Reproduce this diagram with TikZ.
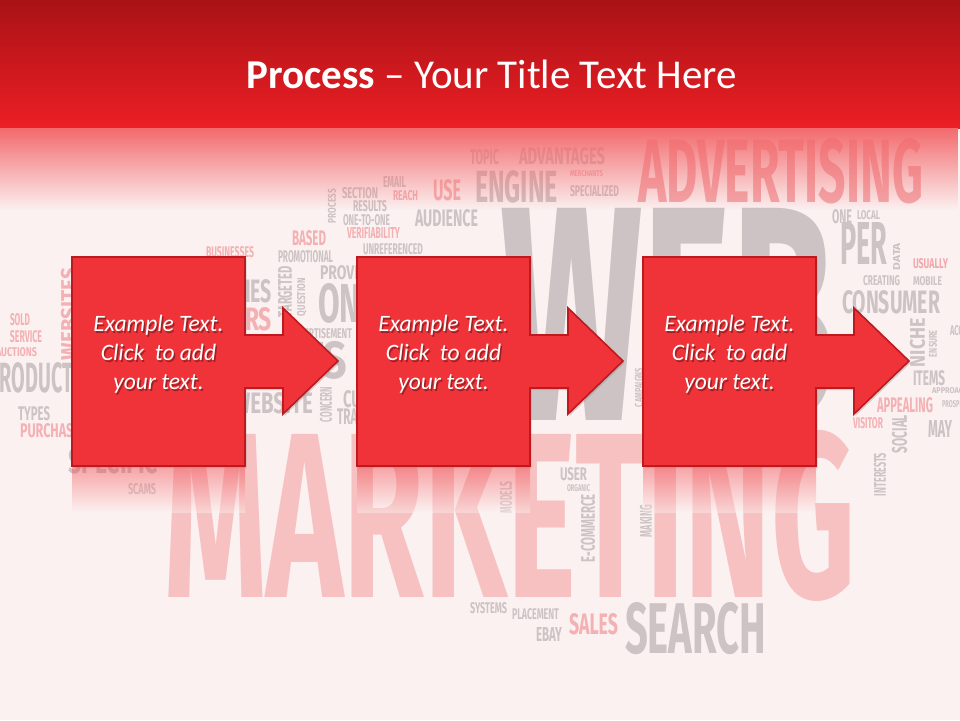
\documentclass[tikz,border=0pt]{standalone}
\usepackage{fontspec}
\setmainfont{Carlito}
\newfontfamily\cloudfont{Fira Sans}
\usepackage{graphicx}
\usetikzlibrary{fadings, shadows}
\definecolor{pageBg}{HTML}{FCF1F1}
\definecolor{bannerTop}{HTML}{A91216}
\definecolor{bannerBottom}{HTML}{EC1F25}
\definecolor{bannerFade}{HTML}{F36A6D}
\definecolor{cloudGrey}{HTML}{CDC3C4}
\definecolor{cloudPink}{HTML}{F3B1B3}
\definecolor{cloudRose}{HTML}{F2A7AA}
\definecolor{marketPink}{HTML}{F7C1C2}
\definecolor{stepRed}{HTML}{F03338}
\definecolor{stepEdge}{HTML}{BC1A1F}
\tikzfading[name=fadeDown, top color=transparent!0, bottom color=transparent!100]
\tikzfading[name=bandFade, top color=transparent!100, middle color=transparent!15, bottom color=transparent!100]

\begin{document}
\begin{tikzpicture}[
    x=1pt, y=-1pt,
    word/.style={font=\cloudfont\bfseries, inner sep=0pt, outer sep=0pt},
    stepshape/.style={fill=stepRed, draw=stepEdge, line width=1.6pt, line join=miter,
        drop shadow={opacity=0.3, shadow xshift=1.5pt, shadow yshift=-2pt}},
    steptext/.style={text=white, font=\fontsize{23.5}{29}\selectfont\itshape, align=center},
    stepglow/.style={steptext, text=black, opacity=0.35}
]
    \useasboundingbox (0,0) rectangle (960,720);
    \fill[pageBg] (0,0) rectangle (960,720);

    % word cloud behind the process
    \foreach \x/\y/\w/\h/\c/\t [count=\i] in {
        500/420/335/212/cloudGrey/WEB, 164/597/691/167/marketPink/MARKETING,
        638/202/285/64/cloudRose/ADVERTISING, 625/653/141/51/cloudGrey/SEARCH,
        470/164/29/15/cloudGrey/TOPIC, 519/164/86/17/cloudGrey/ADVANTAGES,
        475/202/83/32/cloudGrey/ENGINE, 570/176/33/6/cloudPink/MERCHANTS,
        570/196/49/11/cloudGrey/SPECIALIZED, 433/200/28/21/cloudPink/USE,
        383/187/23/11/cloudGrey/EMAIL, 393/200/25/10/cloudPink/REACH,
        342/198/36/11/cloudGrey/SECTION, 353/211/34/11/cloudGrey/RESULTS,
        343/225/47/11/cloudGrey/ONE-TO-ONE, 415/226/63/17/cloudGrey/AUDIENCE,
        347/238/53/11/cloudPink/VERIFIABILITY, 292/245/34/15/cloudPink/BASED,
        363/254/60/11/cloudGrey/UNREFERENCED, 278/262/55/12/cloudGrey/PROMOTIONAL,
        206/257/48/11/cloudPink/BUSINESSES, 320/279/55/14/cloudGrey/PROVIDE,
        318/322/105/39/cloudGrey/ONLINE, 245/302/27/23/cloudGrey/IES,
        245/330/27/23/cloudPink/RS, 289/338/63/10/cloudGrey/ADVERTISEMENT,
        300/378/47/37/cloudGrey/TS, 233/413/80/21/cloudGrey/WEBSITE,
        343/407/80/17/cloudGrey/CUSTOMERS, 337/424/42/16/cloudGrey/TRAFFIC,
        10/325/20/12/cloudPink/SOLD, 10/342/32/12/cloudPink/SERVICE,
        -4/356/41/9/cloudPink/AUCTIONS, -12/392/96/30/cloudGrey/PRODUCTS,
        18/420/32/14/cloudGrey/TYPES, 20/437/60/14/cloudPink/PURCHASE,
        68/473/90/25/cloudGrey/SPECIFIC, 128/494/28/11/cloudGrey/SCAMS,
        470/613/37/11/cloudGrey/SYSTEMS, 512/619/47/11/cloudGrey/PLACEMENT,
        536/641/26/14/cloudGrey/EBAY, 569/634/49/21/cloudPink/SALES,
        560/480/27/13/cloudGrey/USER, 567/491/23/7/cloudGrey/ORGANIC,
        853/428/30/11/cloudPink/VISITOR, 928/437/24/17/cloudGrey/MAY,
        877/412/56/15/cloudPink/APPEALING, 942/407/30/7/cloudGrey/PROSPECTS,
        932/393/36/6/cloudGrey/APPROACH, 913/385/32/15/cloudGrey/ITEMS,
        950/335/25/10/cloudGrey/ACCESS, 842/313/98/23/cloudGrey/CONSUMER,
        863/285/37/10/cloudGrey/CREATING, 913/285/29/9/cloudGrey/MOBILE,
        913/268/35/10/cloudRose/USUALLY, 840/264/47/42/cloudGrey/PER,
        832/223/20/14/cloudGrey/ONE, 857/219/23/9/cloudGrey/LOCAL}
        \node[word, text=\c, anchor=base west] (word\i) at (\x,\y) {\resizebox{\w pt}{\h pt}{\t}};
    \foreach \x/\y/\l/\t/\c/\s [count=\i] in {
        332/206/34/8/cloudGrey/PROCESS, 285/291.5/51/14/cloudGrey/TARGETED,
        302/297/38/8/cloudGrey/QUESTION, 326/404.5/35/12/cloudGrey/CONCERN,
        69/314/92/16/cloudPink/WEBSITES, 588/528/68/14/cloudGrey/E-COMMERCE,
        506/497.5/31/12/cloudGrey/MODELS, 646/521/32/12/cloudGrey/MAKING,
        880/474.5/43/12/cloudGrey/INTERESTS, 899.5/434/38/15/cloudGrey/SOCIAL,
        917.5/342.5/49/15/cloudGrey/NICHE, 933/343.5/27/8/cloudGrey/ENSURE,
        896.5/256.5/27/7/cloudGrey/DATA, 639/387.5/39/8/cloudGrey/CAMPAIGNS}
        \node[word, text=\c, rotate=90] (vword\i) at (\x,\y) {\resizebox{\l pt}{\t pt}{\s}};

    % title banner
    \shade[top color=bannerTop, bottom color=bannerBottom] (0,0) rectangle (960,128);
    \fill[bannerFade, path fading=fadeDown] (0,128) rectangle (960,210);
    \node[text=white, font=\fontsize{41}{49}\selectfont, anchor=base] (title) at (492,88)
        {\textbf{Process} – Your Title Text Here};

    % reflection under the steps
    \fill[white, path fading=bandFade] (0,472) rectangle (870,550);
    \foreach \x in {72, 357, 643}
        \shade[top color=stepRed, bottom color=pageBg, fill opacity=0.4] (\x,467) rectangle ++(173,45);

    % process steps
    \foreach \n/\x in {1/72, 2/357, 3/643} {
        \draw[stepshape] (\x,257) -- ++(173,0) -- ++(0,78) -- ++(38,0) -- ++(0,-27)
            -- ++(55,53) -- ++(-55,53) -- ++(0,-26) -- ++(-38,0) -- ++(0,78)
            -- ++(-173,0) -- cycle;
        \node[stepglow] (glow\n) at (\x+88,356) {Example Text.\\Click\ \ to add\\your text.};
        \node[steptext] (step\n) at (\x+86.5,354) {Example Text.\\Click\ \ to add\\your text.};
    }
\end{tikzpicture}
\end{document}
